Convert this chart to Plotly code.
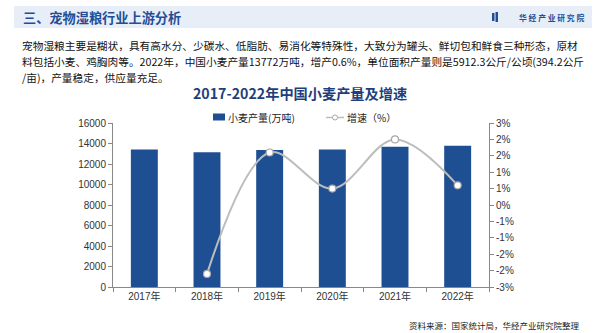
import plotly.graph_objects as go

years = ["2017年", "2018年", "2019年", "2020年", "2021年", "2022年"]
production = [13424, 13144, 13359, 13425, 13695, 13772]
growth = [None, -2.1, 1.6, 0.5, 2.0, 0.6]
right_tickvals = [-2.5, -2.0, -1.5, -1.0, -0.5, 0.0, 0.5, 1.0, 1.5, 2.0, 2.5]
right_ticktext = ["-3%", "-2%", "-2%", "-1%", "-1%", "0%", "1%", "1%", "2%", "2%", "3%"]

W, H = 600, 333
L, R, T, B = 113, 489, 123, 287

def px(x):
    return (x - L) / (R - L)

def py(y):
    return (B - y) / (B - T)

CJK = "Noto Sans CJK SC, Liberation Sans, sans-serif"
ARIAL = "Liberation Sans, Noto Sans CJK SC, sans-serif"
BAR_COLOR = "#1E4F93"
LINE_COLOR = "#BDBDBD"

fig = go.Figure()
fig.add_trace(go.Bar(
    x=years, y=production, name="小麦产量(万吨)",
    marker=dict(color=BAR_COLOR, line=dict(width=0)),
    yaxis="y", showlegend=False,
))
fig.add_trace(go.Scatter(
    x=years, y=growth, name="增速（%）", yaxis="y2",
    mode="lines+markers", line=dict(color=LINE_COLOR, width=2, shape="spline", smoothing=1.0),
    marker=dict(symbol="circle", size=7, color="white", line=dict(color="#A8A8A8", width=1.2)),
    connectgaps=False, showlegend=False,
))

def ann(x, y, text, xanchor, size, color, family=CJK):
    return dict(x=px(x), y=py(y), xref="paper", yref="paper", text=text, showarrow=False,
                xanchor=xanchor, yanchor="middle", font=dict(family=family, size=size, color=color))

annotations = [
    ann(21, 17, "<b>三、宠物湿粮行业上游分析</b>", "left", 13.2, "#1F4E96"),
    ann(586, 17, "<b>华 经 产 业 研 究 院</b>", "right", 7.8, "#1F4E96"),
    ann(20, 45, "宠物湿粮主要是糊状，具有高水分、少碳水、低脂肪、易消化等特殊性，大致分为罐头、鲜切包和鲜食三种形态，原材", "left", 10.7, "#111111"),
    ann(20, 61, "料包括小麦、鸡胸肉等。2022年，中国小麦产量13772万吨，增产0.6%，单位面积产量则是5912.3公斤/公顷(394.2公斤", "left", 10.7, "#111111"),
    ann(20, 77, "/亩)，产量稳定，供应量充足。", "left", 10.7, "#111111"),
    ann(300, 93, "<b>2017-2022年中国小麦产量及增速</b>", "center", 14.2, "#1F3F7C"),
    ann(582, 325, "资料来源：国家统计局，华经产业研究院整理", "right", 8.5, "#222222"),
    # legend texts
    ann(226, 117, "小麦产量(万吨)", "left", 10, "#222222"),
    ann(345, 117, "增速（%）", "left", 10, "#222222"),
]

shapes = [
    dict(type="rect", xref="paper", yref="paper", x0=px(14), x1=px(592), y0=py(6), y1=py(28),
         fillcolor="#E8EEF8", line=dict(width=0), layer="below"),
    dict(type="rect", xref="paper", yref="paper", x0=px(492), x1=px(494.5), y0=py(13), y1=py(21),
         fillcolor="#1F4E96", line=dict(width=0)),
    dict(type="rect", xref="paper", yref="paper", x0=px(495.5), x1=px(498), y0=py(12), y1=py(22),
         fillcolor="#1F4E96", line=dict(width=0)),
    # legend symbols
    dict(type="rect", xref="paper", yref="paper", x0=px(213), x1=px(225), y0=py(120.5), y1=py(113.5),
         fillcolor=BAR_COLOR, line=dict(width=0)),
    dict(type="line", xref="paper", yref="paper", x0=px(326), x1=px(344), y0=py(117.5), y1=py(117.5),
         line=dict(color=LINE_COLOR, width=1.5)),
    dict(type="circle", xref="paper", yref="paper", x0=px(332.5), x1=px(337.5), y0=py(120), y1=py(115),
         fillcolor="white", line=dict(color="#A8A8A8", width=1)),
]

fig.update_layout(
    width=W, height=H,
    margin=dict(l=L, r=W - R, t=T, b=H - B),
    paper_bgcolor="white", plot_bgcolor="white",
    bargap=0.57,
    showlegend=False,
    xaxis=dict(type="category", showline=True, linecolor="#888888", linewidth=1,
               ticks="outside", tickson="boundaries", ticklen=4, tickcolor="#888888",
               tickfont=dict(family=ARIAL, size=10, color="#333333"), showgrid=False),
    yaxis=dict(range=[0, 16000], dtick=2000, tickformat="d", showline=True, linecolor="#888888", linewidth=1,
               ticks="outside", ticklen=4, tickcolor="#888888", showgrid=False, zeroline=False,
               tickfont=dict(family=ARIAL, size=10, color="#333333")),
    yaxis2=dict(overlaying="y", side="right", range=[-2.5, 2.5], tickmode="array",
                tickvals=right_tickvals, ticktext=right_ticktext, showline=True,
                linecolor="#888888", linewidth=1, ticks="outside", ticklen=4, tickcolor="#888888",
                showgrid=False, zeroline=False, tickfont=dict(family=ARIAL, size=10, color="#333333")),
    annotations=annotations,
    shapes=shapes,
)

fig.write_html("out.html")
